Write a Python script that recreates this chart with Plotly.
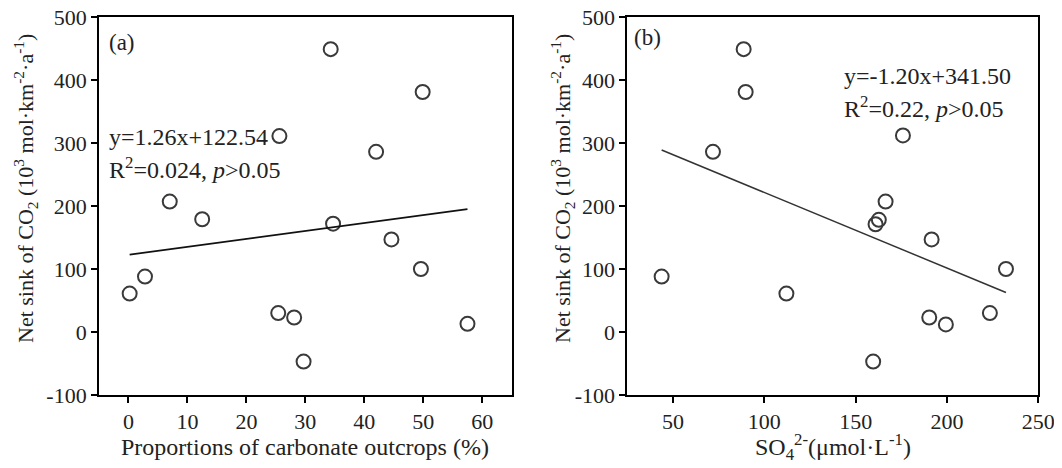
import plotly.graph_objects as go

# Panel (a): proportion of carbonate outcrops (%) vs net CO2 sink
carb_x = [0.2, 2.8, 7.0, 12.5, 25.4, 25.6, 28.1, 29.7, 34.3, 34.7, 42.0, 44.6, 49.6, 49.9, 57.5]
sink_a = [61, 88, 207, 179, 30, 311, 23, -47, 449, 172, 286, 147, 100, 381, 13]

# Panel (b): SO4 2- (umol/L) vs net CO2 sink
so4_x = [43.8, 71.9, 88.7, 89.8, 112.1, 159.6, 160.9, 162.7, 166.4, 175.9, 190.3, 191.6, 199.4, 223.5, 232.3]
sink_b = [88, 286, 449, 381, 61, -47, 171, 178, 207, 312, 23, 147, 12, 30, 100]

fit_a = (1.26, 122.54)
fit_b = (-1.20, 341.50)

xticks_a = [0, 10, 20, 30, 40, 50, 60]
xticks_b = [50, 100, 150, 200, 250]
yticks = [-100, 0, 100, 200, 300, 400, 500]
yticklabels = ["-100", "0", "100", "200", "300", "400", "500"]

FONT = "Liberation Serif, Times New Roman, serif"
OFF = 8  # page body margin
W, H = 1054, 460


def px(x):
    return (x - OFF) / W


def py(y):
    return 1 - (y - OFF) / H


fig = go.Figure()

marker = dict(symbol="circle-open", size=14, color="#3a3a3a", line=dict(width=2, color="#3a3a3a"))

fig.add_trace(go.Scatter(x=carb_x, y=sink_a, mode="markers", marker=marker,
                         xaxis="x", yaxis="y", showlegend=False))
xa = [min(carb_x), max(carb_x)]
fig.add_trace(go.Scatter(x=xa, y=[fit_a[0] * v + fit_a[1] for v in xa], mode="lines",
                         line=dict(color="#111111", width=1.8), xaxis="x", yaxis="y", showlegend=False))

fig.add_trace(go.Scatter(x=so4_x, y=sink_b, mode="markers", marker=marker,
                         xaxis="x2", yaxis="y2", showlegend=False))
xb = [min(so4_x), max(so4_x)]
fig.add_trace(go.Scatter(x=xb, y=[fit_b[0] * v + fit_b[1] for v in xb], mode="lines",
                         line=dict(color="#333333", width=1.5), xaxis="x2", yaxis="y2", showlegend=False))

ydom = [py(395), py(17)]
axis_common = dict(showline=True, linecolor="black", linewidth=1.8, mirror=True,
                   ticks="outside", ticklen=6, tickwidth=1.5, tickcolor="black",
                   showgrid=False, zeroline=False, automargin=False,
                   ticklabeloverflow="allow",
                   tickfont=dict(family=FONT, size=22, color="#222"))

fig.update_layout(
    width=W, height=H,
    margin=dict(l=0, r=0, t=0, b=0),
    plot_bgcolor="white", paper_bgcolor="white",
    xaxis=dict(domain=[px(99), px(511.7)], range=[-5, 65], tickvals=xticks_a, anchor="y", **axis_common),
    yaxis=dict(domain=ydom, range=[-100, 500], tickvals=yticks, ticktext=yticklabels, anchor="x", **axis_common),
    xaxis2=dict(domain=[px(627.3), px(1038.3)], range=[25, 250], tickvals=xticks_b, anchor="y2", **axis_common),
    yaxis2=dict(domain=ydom, range=[-100, 500], tickvals=yticks, ticktext=yticklabels, anchor="x2", **axis_common),
)


def f(size):
    return dict(family=FONT, size=size, color="#222")


ytitle = "Net sink of CO<sub>2</sub> (10<sup>3</sup> mol·km<sup>-2</sup>·a<sup>-1</sup>)"

ann = [
    dict(text="(a)", x=px(107), y=py(42), xanchor="left", yanchor="middle", font=f(23)),
    dict(text="(b)", x=px(632), y=py(38), xanchor="left", yanchor="middle", font=f(23)),
    dict(text="y=1.26x+122.54", x=px(107), y=py(137), xanchor="left", yanchor="middle", font=f(24)),
    dict(text="R<sup>2</sup>=0.024, <i>p</i>>0.05", x=px(107), y=py(168), xanchor="left", yanchor="middle", font=f(24)),
    dict(text="y=-1.20x+341.50", x=px(842), y=py(76), xanchor="left", yanchor="middle", font=f(24)),
    dict(text="R<sup>2</sup>=0.22, <i>p</i>>0.05", x=px(842), y=py(107), xanchor="left", yanchor="middle", font=f(24)),
    dict(text="Proportions of carbonate outcrops (%)", x=px(305), y=py(447), xanchor="center", yanchor="middle", font=f(24)),
    dict(text="SO<sub>4</sub><sup>2-</sup>(μmol·L<sup>-1</sup>)", x=px(833), y=py(447), xanchor="center", yanchor="middle", font=f(24)),
    dict(text=ytitle, x=px(25), y=py(189), xanchor="center", yanchor="middle", textangle=-90, font=f(22)),
    dict(text=ytitle, x=px(562), y=py(189), xanchor="center", yanchor="middle", textangle=-90, font=f(22)),
]
for a in ann:
    a.update(xref="paper", yref="paper", showarrow=False)
fig.update_layout(annotations=ann)

fig.write_html("out.html")
